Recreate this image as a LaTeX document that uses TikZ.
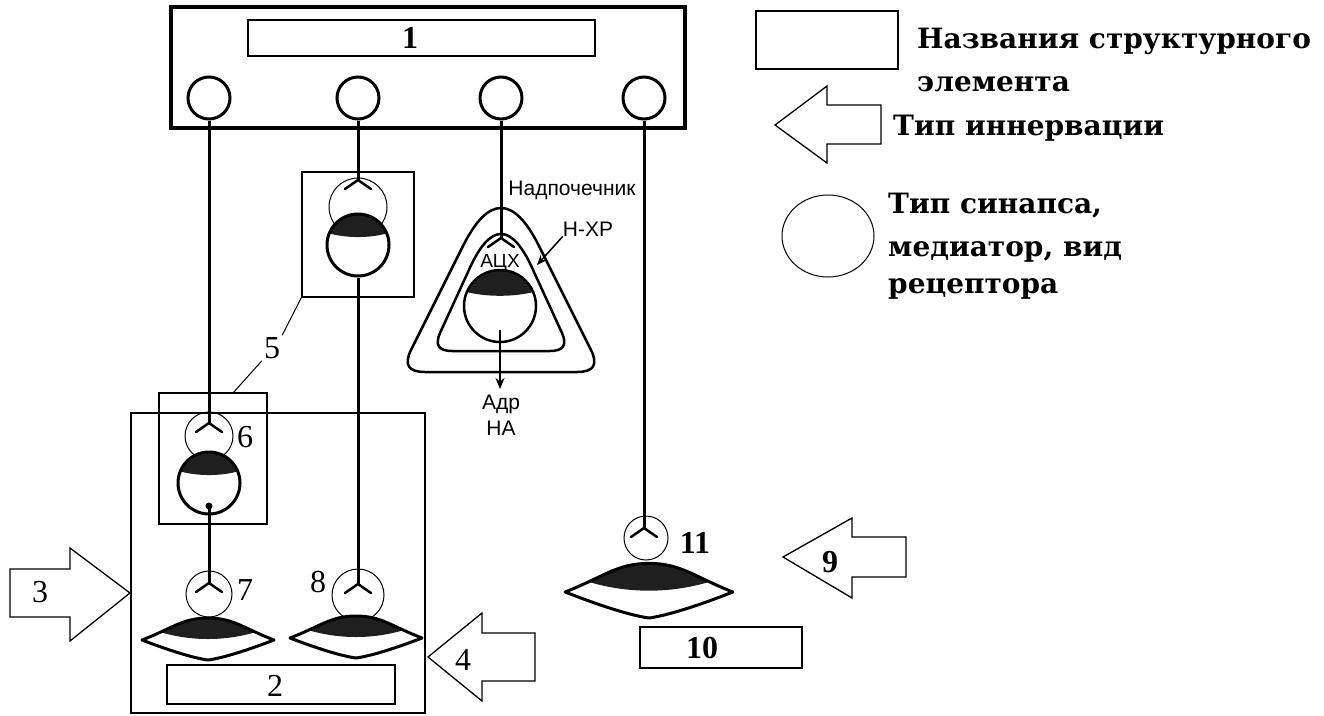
\documentclass[tikz,border=0pt]{standalone}
\usepackage{fontspec}
\setmainfont{DejaVu Serif}
\newfontfamily\numfont{Liberation Serif}
\newfontfamily\sansfont{Liberation Sans}
\usetikzlibrary{arrows.meta}
\tikzset{
  axon/.style={line width=3pt},
  thinframe/.style={draw, line width=1.3pt, inner sep=0},
  labelbox/.style={draw, line width=1.6pt, inner sep=0},
  bigframe/.style={draw, line width=3.5pt, inner sep=0},
  soma/.style={circle, draw, line width=3pt, inner sep=0, minimum size=62pt},
  syn/.style={circle, draw, line width=1pt, inner sep=0},
  topc/.style={circle, draw, line width=3pt, inner sep=0, minimum size=42pt, fill=white},
  num/.style={inner sep=0, font=\numfont\fontsize{32pt}{32pt}\selectfont},
  numb/.style={inner sep=0, font=\numfont\bfseries\fontsize{32pt}{32pt}\selectfont},
  smalls/.style={inner sep=0, font=\sansfont\fontsize{21pt}{24pt}\selectfont},
  legtxt/.style={anchor=base west, inner sep=0, font=\bfseries\fontsize{28pt}{34pt}\selectfont},
  innarrow/.style={draw, line width=1.3pt, line join=miter},
  capfill/.style={fill=black!88},
  fork/.pic={\draw[line width=2.5pt, line cap=round] (-13,9) -- (0,0) -- (13,9);},
  cap/.pic={\begin{scope}\clip (0,0) circle (#1pt);
     \fill[capfill] (-#1-5,-#1-5) -- (#1+5,-#1-5) -- (#1+5,-0.45*#1) .. controls (0.5*#1,-0.45*#1+8) and (-0.5*#1,-0.45*#1+8) .. (-#1-5,-0.45*#1) -- cycle;
   \end{scope}},
  effector/.pic={
   \begin{scope}
    \clip (-66,0) .. controls (-35,-12) and (-25,-22) .. (0,-22) .. controls (25,-22) and (35,-12) .. (66,0) -- cycle;
    \fill[capfill] (-70,-30) -- (70,-30) -- (70,-16) .. controls (25,4) and (-25,4) .. (-70,-16) -- cycle;
   \end{scope}
   \draw[line width=3pt, line join=round] (-66,0) .. controls (-35,-12) and (-25,-22) .. (0,-22) .. controls (25,-22) and (35,-12) .. (66,0) .. controls (40,10) and (15,18) .. (0,20) .. controls (-15,18) and (-40,10) .. (-66,0) -- cycle;
  }
}
\begin{document}
\begin{tikzpicture}[x=1pt,y=-1pt]
\useasboundingbox (0,0) rectangle (1324,715);
% ---- top block 1
\node[bigframe, minimum width=514pt, minimum height=121pt] (box1) at (428,67.5) {};
\node[labelbox, minimum width=347pt, minimum height=36pt] (lab1) at (421.5,38) {};
\node[numb] (n1) at (410,38) {1};
\node[topc] (t1) at (209,98) {};
\node[topc] (t2) at (358,98) {};
\node[topc] (t3) at (501,98) {};
\node[topc] (t4) at (644,98) {};
% ---- box 2
\node[draw, line width=2.5pt, inner sep=0, minimum width=294pt, minimum height=300pt] (box2) at (278,563) {};
\node[labelbox, minimum width=228pt, minimum height=39pt] (lab2) at (281,684.5) {};
\node[num] (n2) at (275,686) {2};
% ---- box 5 (ganglion)
\node[thinframe, minimum width=112pt, minimum height=125pt] (box5) at (358,234.5) {};
\node[syn, minimum size=58pt] (s5) at (358,207) {};
\pic at (358,245) {cap=31};
\node[soma] (n5) at (358,245) {};
\coordinate (f5) at (358,180);
% ---- box 6 (ganglion)
\node[thinframe, minimum width=108pt, minimum height=131pt] (box6) at (213,458.5) {};
\node[syn, minimum size=48pt] (s6) at (209,436) {};
\pic at (209,483) {cap=31};
\node[soma] (n6) at (209,483) {};
\coordinate (f6) at (209,423);
\coordinate (ax6) at (209,506);
\fill (ax6) circle (3.5pt);
% label 5
\node[num, inner sep=2pt] (n5l) at (272,348) {5};
\coordinate (b6t) at (233,393);
\draw[line width=1pt] (n5l.north east) -- (box5.south west);
\draw[line width=1pt] (n5l.south west) -- (b6t);
% ---- synapses 7, 8, 11
\node[syn, minimum size=46pt] (s7) at (209,594) {};
\node[syn, minimum size=52pt] (s8) at (358,595) {};
\node[syn, minimum size=44pt] (s11) at (646,538) {};
\coordinate (f7) at (209,583);
\coordinate (f8) at (358,584);
\coordinate (f11) at (644,528);
\node[num] (n6l) at (245,437) {6};
\node[num] (n7l) at (245,590) {7};
\node[num] (n8l) at (318,582) {8};
\node[numb] (n11l) at (695,543) {11};
% ---- effectors
\pic at (208,640) {effector};
\pic at (356,638) {effector};
\pic[xscale=1.27,yscale=1.3] at (649,592) {effector};
\node[labelbox, minimum width=162pt, minimum height=41pt] (lab10) at (721,647.5) {};
\node[numb] (n10) at (702,648) {10};
% ---- adrenal (rounded triangles)
\draw[line width=2.5pt, line join=round] (463,246) .. controls (488.3,195.3) and (513.7,195.3) .. (539,246) -- (591,350) .. controls (598.3,364.7) and (593.7,372) .. (577,372) -- (425,372) .. controls (408.3,372) and (403.7,364.7) .. (411,350) -- cycle;
\draw[line width=2.5pt, line join=round] (468,272) .. controls (490,221.3) and (512,221.3) .. (534,272) -- (562,333) .. controls (567.3,345) and (563.3,351) .. (550,351) -- (452,351) .. controls (438.7,351) and (434.7,345) .. (440,333) -- cycle;
\pic at (500,306) {cap=36};
\node[soma, minimum size=72pt, line width=2.5pt] (nt) at (500,306) {};
\coordinate (f3) at (501,238);
\node[smalls, font=\sansfont\fontsize{19pt}{20pt}\selectfont] (ach) at (500,263) {АЦХ};
\node[smalls] (nadp) at (572,190) {Надпочечник};
\node[smalls] (hxp) at (588,229) {Н-ХР};
\coordinate (hxptip) at (537,265);
\draw[line width=1.5pt, -{Stealth[length=10pt,width=8pt]}] (hxp.south west) -- (hxptip);
\coordinate (ad0) at (500,330);
\coordinate (adtip) at (500,389);
\draw[line width=2pt, -{Stealth[length=11pt,width=9pt]}] (ad0) -- (adtip);
\node[smalls] (adr) at (501,404) {Адр};
\node[smalls] (na) at (501,428) {НА};
% ---- axons
\draw[axon] (t1.south) -- (f6);
\draw[axon] (t2.south) -- (f5);
\draw[axon] (t3.south) -- (f3);
\draw[axon] (t4.south) -- (f11);
\draw[axon] (n5.south) -- (f8);
\draw[axon] (ax6) -- (f7);
\foreach \f in {f5,f6,f7,f8,f3,f11} {\pic at (\f) {fork};}
% ---- innervation arrows
\draw[innarrow] (10,569) -- (70,569) -- (70,548) -- (130,593) -- (70,641) -- (70,617) -- (10,617) -- cycle;
\node[num] (n3) at (40,592) {3};
\draw[innarrow] (535,633) -- (482,633) -- (482,613) -- (428,657) -- (482,701) -- (482,681) -- (535,681) -- cycle;
\node[num] (n4) at (463,660) {4};
\draw[innarrow] (906,537) -- (852,537) -- (852,518) -- (783,557) -- (852,598) -- (852,577) -- (906,577) -- cycle;
\node[numb] (n9) at (830,562) {9};
% ---- legend
\node[draw, line width=2pt, inner sep=0, minimum width=142pt, minimum height=58pt] (legbox) at (827,40) {};
\draw[innarrow] (881,105) -- (827,105) -- (827,86) -- (775,125) -- (827,163) -- (827,144) -- (881,144) -- cycle;
\coordinate (legc) at (828,236);
\draw[line width=1pt] (legc) ellipse [x radius=46, y radius=41];
\node[legtxt] (lt1) at (917,48) {Названия структурного};
\node[legtxt] (lt2) at (917,91) {элемента};
\node[legtxt] (lt3) at (893,135) {Тип иннервации};
\node[legtxt] (lt4) at (888,213) {Тип синапса,};
\node[legtxt] (lt5) at (888,256) {медиатор, вид};
\node[legtxt] (lt6) at (888,293) {рецептора};
\end{tikzpicture}
\end{document}
